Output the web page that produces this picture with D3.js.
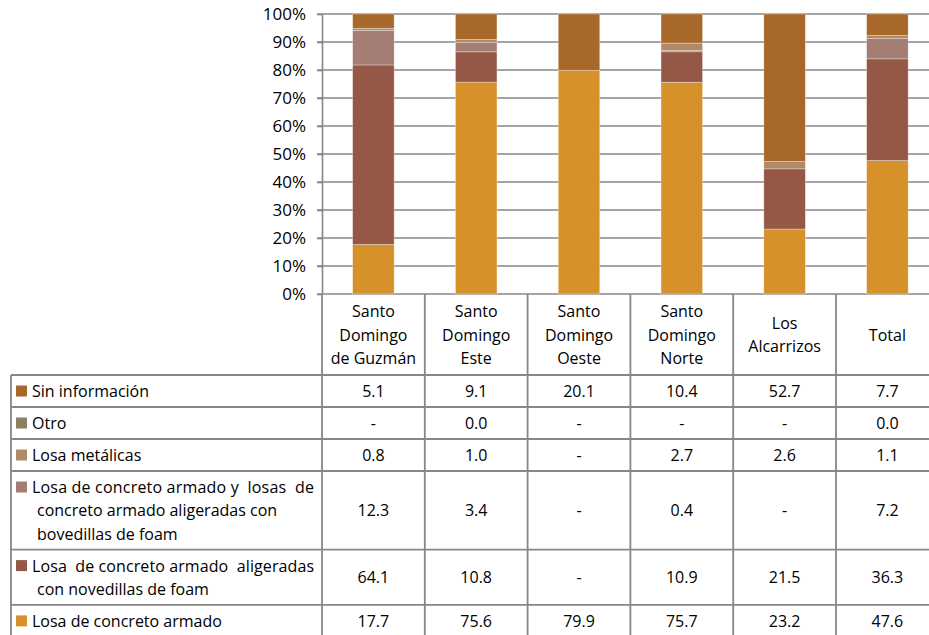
<!DOCTYPE html>
<html>
<head>
<meta charset="utf-8">
<script src="https://cdn.jsdelivr.net/npm/d3@7"></script>
<style>
  html, body { margin: 0; padding: 0; background: #fff; }
  svg { display: block; font-family: "Open Sans", "Liberation Sans", sans-serif; }
  text { fill: #000; white-space: pre; }
</style>
</head>
<body>
<svg id="chart" width="929" height="635"></svg>
<script>
// Municipalities (columns) and their header lines
const categories = ["SDG", "SDE", "SDO", "SDN", "LA", "TOT"];
const categoryLines = [
  ["Santo", "Domingo", "de Guzmán"],
  ["Santo", "Domingo", "Este"],
  ["Santo", "Domingo", "Oeste"],
  ["Santo", "Domingo", "Norte"],
  ["Los", "Alcarrizos"],
  ["Total"]
];

// Roof types, from top of the stack (first table row) to the bottom
const seriesNames = [
  "Sin información",
  "Otro",
  "Losa metálicas",
  "Losa de concreto armado y  losas  de|concreto armado aligeradas con|bovedillas de foam",
  "Losa  de concreto armado  aligeradas|con novedillas de foam",
  "Losa de concreto armado"
];
const seriesColors = ["#A8682A", "#8C8062", "#B08A68", "#A47E74", "#955847", "#D6912B"];

// Percentages per series (null = "-")
const sinInformacion   = [5.1, 9.1, 20.1, 10.4, 52.7, 7.7];
const otro             = [null, 0.0, null, null, null, 0.0];
const losaMetalicas    = [0.8, 1.0, null, 2.7, 2.6, 1.1];
const losaBovedillas   = [12.3, 3.4, null, 0.4, null, 7.2];
const losaAligeradas   = [64.1, 10.8, null, 10.9, 21.5, 36.3];
const losaConcreto     = [17.7, 75.6, 79.9, 75.7, 23.2, 47.6];

const seriesValues = [sinInformacion, otro, losaMetalicas, losaBovedillas, losaAligeradas, losaConcreto];
const yTicks = [0, 0.1, 0.2, 0.3, 0.4, 0.5, 0.6, 0.7, 0.8, 0.9, 1.0];

const svg = d3.select("#chart");
const gridColor = "#878787";
const fontSize = 16;

const plotLeft = 322, plotTop = 14, plotBottom = 294;
const colStep = 102.8;
const plotRight = plotLeft + colStep * categories.length;

const x = d3.scaleBand().domain(categories).range([plotLeft, plotRight])
  .paddingInner(0.596).paddingOuter(0.298);
const y = d3.scaleLinear().domain([0, 1]).range([plotBottom, plotTop]);

// stacked data, bottom series first
const keys = seriesNames.map((_, i) => i).reverse();
const rows = categories.map((c, ci) => {
  const r = { cat: c };
  seriesValues.forEach((vals, si) => { r[si] = vals[ci] == null ? 0 : vals[ci]; });
  return r;
});
const stacked = d3.stack().keys(keys).offset(d3.stackOffsetExpand)(rows);

// gridlines
svg.append("g").selectAll("line").data(yTicks).join("line")
  .attr("x1", plotLeft - 5).attr("x2", plotRight)
  .attr("y1", d => y(d)).attr("y2", d => y(d))
  .attr("stroke", gridColor).attr("stroke-width", 1.6);

// y axis
const yAxis = svg.append("g").attr("transform", `translate(${plotLeft},0)`)
  .call(d3.axisLeft(y).tickValues(yTicks).tickFormat(d3.format(".0%"))
    .tickSizeInner(5).tickSizeOuter(0).tickPadding(11));
yAxis.select(".domain").attr("stroke", gridColor).attr("stroke-width", 1.6);
yAxis.selectAll(".tick line").attr("stroke", gridColor).attr("stroke-width", 1.6);
yAxis.selectAll(".tick text").attr("font-size", 17)
  .attr("font-family", "'Open Sans', sans-serif").attr("fill", "#000");

// bars
svg.append("g").selectAll("g").data(stacked).join("g")
  .attr("fill", d => seriesColors[d.key])
  .selectAll("rect").data(d => d).join("rect")
  .attr("x", d => x(d.data.cat))
  .attr("width", x.bandwidth())
  .attr("y", d => y(d[1]))
  .attr("height", d => Math.max(0, y(d[0]) - y(d[1])))
  .attr("stroke", "rgba(255,255,255,0.45)").attr("stroke-width", 0.7);

// ----- data table -----
const tableLeft = 11;
const headerBottom = 375;
const lineH = 23.3;
const rowLines = seriesNames.map(s => s.split("|"));
const rowHeights = rowLines.map(l => 32 + (l.length - 1) * lineH);
const rowTops = [];
let acc = headerBottom;
rowHeights.forEach(h => { rowTops.push(acc); acc += h; });
const tableBottom = acc;

const tbl = svg.append("g");

// header labels
categories.forEach((c, ci) => {
  const cx = x(c) + x.bandwidth() / 2;
  const lines = categoryLines[ci];
  const midY = (plotBottom + headerBottom) / 2;
  lines.forEach((ln, li) => {
    tbl.append("text")
      .attr("x", cx)
      .attr("y", midY + (li - (lines.length - 1) / 2) * lineH + 6)
      .attr("text-anchor", "middle").attr("font-size", fontSize).text(ln);
  });
});

// rows: legend key + values (first lines of wrapped labels are justified)
rowLines.forEach((lines, ri) => {
  const top = rowTops[ri], h = rowHeights[ri];
  const firstBase = top + h / 2 - (lines.length - 1) / 2 * lineH + 6;
  tbl.append("rect").attr("x", 16).attr("y", firstBase - 11.5)
    .attr("width", 11).attr("height", 11).attr("fill", seriesColors[ri]);
  lines.forEach((ln, li) => {
    const t = tbl.append("text").attr("x", li === 0 ? 32 : 37).attr("y", firstBase + li * lineH)
      .attr("font-size", fontSize).text(ln);
    if (lines.length > 1 && li === 0) {
      t.attr("textLength", 282).attr("lengthAdjust", "spacing");
    }
  });
  categories.forEach((c, ci) => {
    const v = seriesValues[ri][ci];
    tbl.append("text")
      .attr("x", x(c) + x.bandwidth() / 2).attr("y", top + h / 2 + 6)
      .attr("text-anchor", "middle").attr("font-size", fontSize)
      .text(v == null ? "-" : v.toFixed(1));
  });
});

// grid of the table
const hLines = [headerBottom, ...rowTops.slice(1), tableBottom];
tbl.selectAll("line.h").data(hLines).join("line")
  .attr("x1", tableLeft).attr("x2", plotRight)
  .attr("y1", d => d).attr("y2", d => d)
  .attr("stroke", gridColor).attr("stroke-width", 1.8);
const vXs = d3.range(categories.length + 1).map(i => plotLeft + i * colStep);
tbl.selectAll("line.v").data(vXs).join("line")
  .attr("x1", d => d).attr("x2", d => d)
  .attr("y1", plotBottom).attr("y2", tableBottom)
  .attr("stroke", gridColor).attr("stroke-width", 1.8);
tbl.append("line").attr("x1", tableLeft).attr("x2", tableLeft)
  .attr("y1", headerBottom).attr("y2", tableBottom)
  .attr("stroke", gridColor).attr("stroke-width", 1.8);
</script>
</body>
</html>
